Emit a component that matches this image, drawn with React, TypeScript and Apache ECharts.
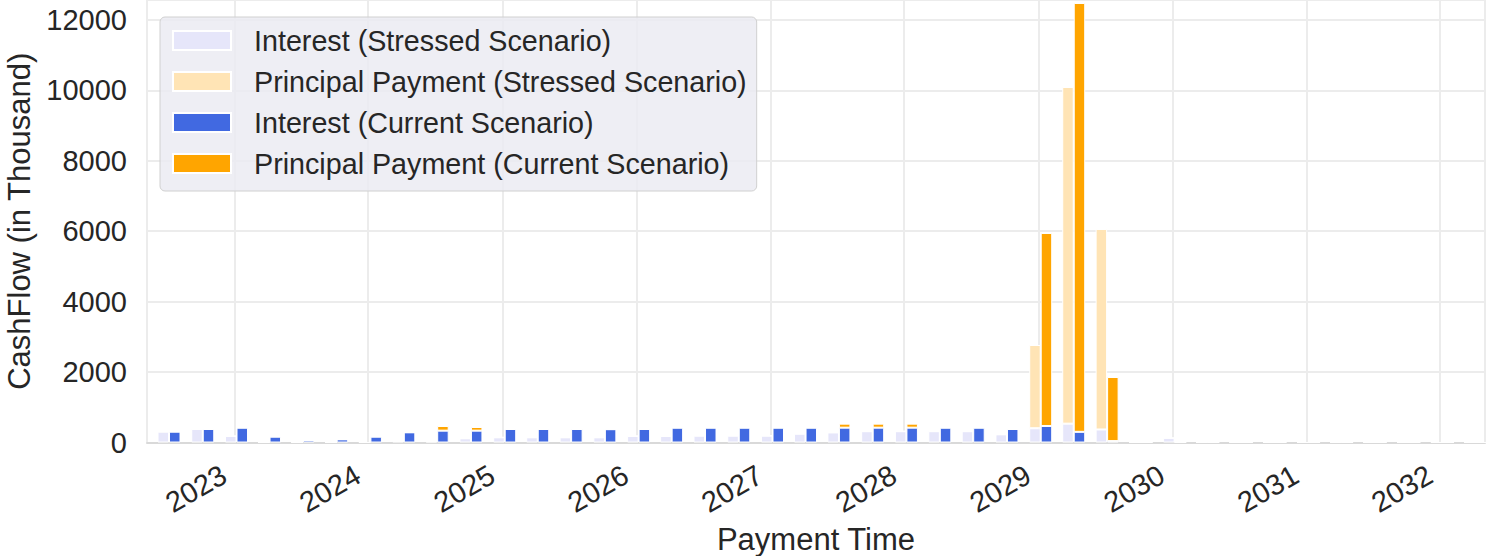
import React, { useEffect, useRef } from "react";
import * as echarts from "echarts";

const paymentDates: string[] = [
  "2022-07-07", "2022-10-07", "2023-01-07", "2023-04-07", "2023-07-07", "2023-10-07",
  "2024-01-07", "2024-04-07", "2024-07-07", "2024-10-07", "2025-01-07", "2025-04-07",
  "2025-07-07", "2025-10-07", "2026-01-07", "2026-04-07", "2026-07-07", "2026-10-07",
  "2027-01-07", "2027-04-07", "2027-07-07", "2027-10-07", "2028-01-07", "2028-04-07",
  "2028-07-07", "2028-10-07", "2029-01-07", "2029-04-07", "2029-07-07", "2029-10-07",
  "2030-01-07", "2030-04-07", "2030-07-07", "2030-10-07", "2031-01-07", "2031-04-07",
  "2031-07-07", "2031-10-07", "2032-01-07", "2032-04-07",
];

const interestStressed: number[] = [
  308, 383, 185, 0, 0, 0, 0, 40, 30, 119, 147, 147, 147, 147, 185, 185, 194, 194,
  194, 250, 285, 320, 320, 320, 320, 232, 405, 535, 370, 0, 130, 0, 0, 0, 0, 0, 0, 0, 0, 0,
];
const principalStressed: number[] = [
  0, 0, 0, 0, 0, 0, 0, 0, 0, 0, 0, 0, 0, 0, 0, 0, 0, 0, 0, 0, 0, 0, 0, 0, 0, 0,
  2364, 9561, 5694, 0, 0, 0, 0, 0, 0, 0, 0, 0, 0, 0,
];
const interestCurrent: number[] = [
  308, 383, 421, 166, 62, 90, 166, 289, 336, 336, 383, 383, 383, 378, 383, 421, 421, 421,
  421, 421, 421, 421, 421, 421, 421, 383, 469, 303, 40, 0, 0, 0, 0, 0, 0, 0, 0, 0, 0, 0,
];
const principalCurrent: number[] = [
  0, 0, 0, 0, 0, 0, 0, 0, 133, 104, 0, 0, 0, 0, 0, 0, 0, 0, 0, 0, 114, 114, 114, 0, 0, 0,
  5481, 12179, 1820, 0, 0, 0, 0, 0, 0, 0, 0, 0, 0, 0,
];

const seriesNames: string[] = [
  "Interest (Stressed Scenario)",
  "Principal Payment (Stressed Scenario)",
  "Interest (Current Scenario)",
  "Principal Payment (Current Scenario)",
];
const seriesColors: string[] = ["#E6E6FA", "#FFE4B5", "#4169E1", "#FFA500"];

const yTicks: number[] = [0, 2000, 4000, 6000, 8000, 10000, 12000];
const xRange: string[] = ["2022-05-08T00:00:00", "2032-05-02T00:00:00"];

const FONT = "'Liberation Sans', Arial, Helvetica, sans-serif";
const TEXT = "#262626";

const GRID_LEFT = 147;
const GRID_RIGHT = 9;
const CHART_W = 1494;
const BAR_W = 11.5;

export default function App() {
  const ref = useRef<HTMLDivElement>(null);
  useEffect(() => {
    if (!ref.current) return;
    const chart = echarts.init(ref.current, undefined, { renderer: "svg" });
    const pairs = (vals: number[]) => paymentDates.map((d, i) => [d, vals[i]]);
    const stacks = ["stressed", "stressed", "current", "current"];
    const values = [interestStressed, principalStressed, interestCurrent, principalCurrent];
    const YEAR = 365 * 24 * 3600 * 1000;
    // ECharts widens a time axis holding bars by the bars' overflow; pre-shrink so the final range is xRange.
    const a = new Date(xRange[0]).getTime();
    const b = new Date(xRange[1]).getTime();
    const axisLen = CHART_W - GRID_LEFT - GRID_RIGHT;
    const pad = ((b - a) * BAR_W) / axisLen;
    chart.setOption({
      animation: false,
      textStyle: { fontFamily: FONT },
      grid: {
        left: GRID_LEFT,
        right: GRID_RIGHT,
        top: 0,
        bottom: 113.5,
        containLabel: false,
        outerBoundsMode: "none",
      },
      legend: {
        left: 160,
        top: 17,
        orient: "vertical",
        icon: "rect",
        itemWidth: 58,
        itemHeight: 19,
        itemGap: 12,
        padding: [9, 10, 13, 12],
        backgroundColor: "rgba(234,234,242,0.82)",
        borderColor: "#d0d0d0",
        borderWidth: 1,
        borderRadius: 5,
        textStyle: { fontSize: 28.7, color: TEXT, fontFamily: FONT, padding: [0, 0, 0, 18] },
        data: seriesNames,
      },
      xAxis: {
        type: "time",
        min: a + pad,
        max: b - pad,
        minInterval: YEAR,
        maxInterval: YEAR + 24 * 3600 * 1000,
        name: "Payment Time",
        nameLocation: "middle",
        nameGap: 75,
        nameTextStyle: { fontSize: 31, color: TEXT, fontFamily: FONT },
        axisLine: { show: true, lineStyle: { color: "#d9d9d9", width: 2 } },
        axisTick: { show: false },
        splitLine: { show: true, lineStyle: { color: "#ececec", width: 2 } },
        axisLabel: {
          rotate: 30,
          margin: 24,
          fontSize: 29,
          color: TEXT,
          fontFamily: FONT,
          padding: [0, 12, 0, 0],
          formatter: (v: number) => String(new Date(v).getFullYear()),
        },
      },
      yAxis: {
        type: "value",
        min: 0,
        max: 12567,
        interval: 2000,
        name: "CashFlow (in Thousand)",
        nameLocation: "middle",
        nameGap: 96,
        nameTextStyle: { fontSize: 31, color: TEXT, fontFamily: FONT },
        axisLine: { show: false },
        axisTick: { show: false },
        splitLine: { show: true, lineStyle: { color: "#ececec", width: 2 } },
        axisLabel: {
          margin: 20,
          fontSize: 29,
          color: TEXT,
          fontFamily: FONT,
          formatter: (v: number) => (yTicks.includes(v) ? String(v) : ""),
        },
      },
      series: seriesNames.map((name, k) => ({
        name,
        type: "bar",
        stack: stacks[k],
        barWidth: BAR_W,
        barGap: "0%",
        itemStyle: { color: seriesColors[k], borderColor: "#ffffff", borderWidth: 1 },
        data: pairs(values[k]),
      })),
    });
    return () => chart.dispose();
  }, []);
  return (
    <div
      ref={ref}
      style={{ position: "fixed", left: 0, top: 0, width: CHART_W, height: 556, background: "#ffffff" }}
    />
  );
}
